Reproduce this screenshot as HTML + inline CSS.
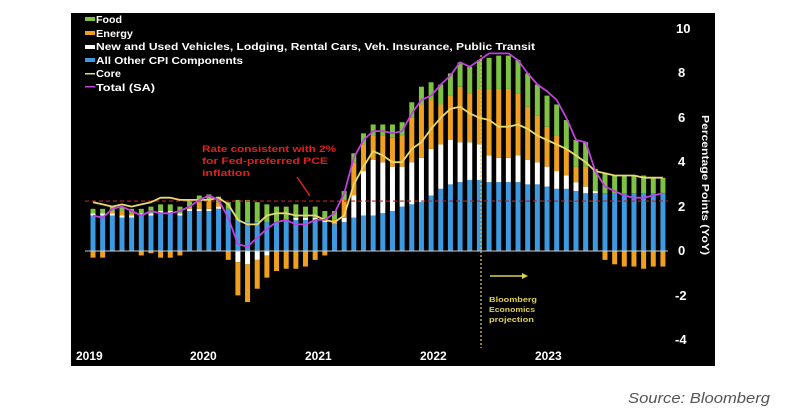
<!DOCTYPE html>
<html><head><meta charset="utf-8"><style>
body{margin:0;background:#fff;width:800px;height:413px;overflow:hidden;font-family:"Liberation Sans",sans-serif}
</style></head><body>
<svg id="s" width="800" height="413" xmlns="http://www.w3.org/2000/svg" style="position:absolute;left:0;top:0">
<rect x="71" y="13" width="644" height="353" fill="#000"/>
<g id="g"></g>
<g font-family="Liberation Sans, sans-serif" font-weight="bold" fill="#fff">
<text x="676" y="33" font-size="13">10</text>
<text x="678" y="77" font-size="13">8</text>
<text x="678" y="122" font-size="13">6</text>
<text x="678" y="166" font-size="13">4</text>
<text x="678" y="211" font-size="13">2</text>
<text x="678" y="255" font-size="13">0</text>
<text x="675" y="300" font-size="13">-2</text>
<text x="675" y="344" font-size="13">-4</text>
<text transform="translate(702,185) rotate(90)" font-size="10" text-anchor="middle" textLength="140" lengthAdjust="spacingAndGlyphs">Percentage Points (YoY)</text>
<text x="76" y="360" font-size="12">2019</text>
<text x="190" y="360" font-size="12">2020</text>
<text x="305" y="360" font-size="12">2021</text>
<text x="420" y="360" font-size="12">2022</text>
<text x="535" y="360" font-size="12">2023</text>
<g font-size="10">
<rect x="85" y="17" width="10" height="4" fill="#7dc242"/><text x="96" y="23" textLength="26" lengthAdjust="spacingAndGlyphs">Food</text>
<rect x="85" y="31" width="10" height="4" fill="#f0a020"/><text x="96" y="37" textLength="37" lengthAdjust="spacingAndGlyphs">Energy</text>
<rect x="85" y="45" width="10" height="4" fill="#fff"/><text x="96" y="50" textLength="439" lengthAdjust="spacingAndGlyphs">New and Used Vehicles, Lodging, Rental Cars, Veh. Insurance, Public Transit</text>
<rect x="85" y="58" width="10" height="4" fill="#3d9ae0"/><text x="96" y="64" textLength="147" lengthAdjust="spacingAndGlyphs">All Other CPI Components</text>
<rect x="85" y="73" width="10" height="1.5" fill="#e8d870"/><text x="96" y="77" textLength="25" lengthAdjust="spacingAndGlyphs">Core</text>
<rect x="85" y="86" width="10" height="1.5" fill="#c040e0"/><text x="96" y="91" textLength="59" lengthAdjust="spacingAndGlyphs">Total (SA)</text>
</g>
</g>
<g font-family="Liberation Sans, sans-serif" font-weight="bold" fill="#e02020" font-size="9">
<text x="202" y="152" textLength="134" lengthAdjust="spacingAndGlyphs">Rate consistent with 2%</text>
<text x="202" y="164" textLength="126" lengthAdjust="spacingAndGlyphs">for Fed-preferred PCE</text>
<text x="202" y="176" textLength="48" lengthAdjust="spacingAndGlyphs">inflation</text>
</g>
<line x1="297" y1="177" x2="310" y2="196" stroke="#e02020" stroke-width="1.5"/>
<g font-family="Liberation Sans, sans-serif" font-weight="bold" fill="#e0d050" font-size="7">
<text x="489" y="302" textLength="48" lengthAdjust="spacingAndGlyphs">Bloomberg</text>
<text x="489" y="312" textLength="46" lengthAdjust="spacingAndGlyphs">Economics</text>
<text x="489" y="322" textLength="45" lengthAdjust="spacingAndGlyphs">projection</text>
</g>
<line x1="490" y1="276" x2="524" y2="276" stroke="#e0d050" stroke-width="1.5"/>
<polygon points="528,276 522,273 522,279" fill="#e0d050"/>
<text x="628" y="403" font-family="Liberation Sans, sans-serif" font-style="italic" font-size="15" fill="#555" textLength="142" lengthAdjust="spacingAndGlyphs">Source: Bloomberg</text>
</svg>
<script>
var T=[1.6,1.5,1.9,2.0,1.8,1.6,1.8,1.7,1.7,1.8,2.0,2.3, 2.5,2.3,1.5,0.3,0.2,0.6,1.0,1.3,1.4,1.2,1.2,1.4, 1.4,1.7,2.6,4.2,5.0,5.4,5.4,5.3,5.4,6.2,6.8,7.0, 7.5,7.9,8.5,8.3,8.6,8.9,8.9,8.9,8.6,8.0,7.5,7.2, 6.8,6.0,5.0,4.9,3.6,2.9,2.7,2.5,2.4,2.4,2.5,2.6];
var C=[2.2,2.1,2.0,2.1,2.0,2.1,2.2,2.4,2.4,2.3,2.3,2.3, 2.3,2.4,2.1,1.4,1.2,1.2,1.6,1.7,1.7,1.6,1.6,1.6, 1.4,1.3,1.6,3.0,3.8,4.5,4.3,4.0,4.0,4.6,4.9,5.5, 6.0,6.4,6.5,6.2,6.0,5.9,5.6,5.6,5.7,5.5,5.2,5.0, 4.8,4.6,4.3,4.0,3.6,3.5,3.4,3.4,3.4,3.3,3.3,3.3];
var O=[1.6,1.6,1.6,1.5,1.5,1.6,1.6,1.7,1.7,1.6,1.8,1.8, 1.8,1.9,1.9,1.4,1.3,1.3,1.3,1.3,1.4,1.4,1.4,1.4, 1.3,1.2,1.3,1.5,1.6,1.6,1.7,1.8,2.0,2.1,2.2,2.5, 2.8,3.0,3.1,3.2,3.2,3.1,3.1,3.1,3.1,3.0,3.0,2.9, 2.8,2.8,2.7,2.6,2.6,2.6,2.6,2.6,2.6,2.6,2.6,2.6];
var V=[0.1,0.1,0.1,0.1,0.1,0.1,0.1,0.1,0.1,0.1,0.1,0.1, 0.1,0.1,0,-0.5,-0.6,-0.4,-0.2,0,0,0.1,0.1,0.1, 0.1,0,0.2,1.0,2.0,2.5,2.3,2.0,1.8,1.9,2.0,2.1, 2.0,2.0,1.8,1.7,1.6,1.2,1.1,1.1,1.2,1.1,1.0,0.9, 0.8,0.6,0.4,0.3,0.1,0,0,0,0,0,0,0];
var F=[0.2,0.2,0.2,0.2,0.2,0.2,0.3,0.3,0.3,0.3,0.3,0.3, 0.25,0.25,0.3,0.9,1.0,0.9,0.8,0.7,0.6,0.6,0.5,0.5, 0.4,0.4,0.4,0.4,0.5,0.5,0.5,0.6,0.6,0.7,0.8,0.8, 0.9,1.0,1.1,1.2,1.3,1.4,1.5,1.5,1.5,1.5,1.4,1.4, 1.4,1.3,1.2,1.1,1.0,0.9,0.8,0.8,0.8,0.8,0.7,0.7];
var E=[-0.3,-0.3,0.1,0.2,0.1,-0.2,-0.1,-0.3,-0.3,-0.2,0.1,0.3, 0.4,0.2,-0.4,-1.5,-1.7,-1.3,-1.0,-0.9,-0.8,-0.8,-0.7,-0.4, -0.2,0.2,0.8,1.5,1.2,1.1,1.2,1.3,1.4,2.0,2.4,2.2, 1.8,2.0,2.5,2.2,2.5,3.0,3.1,3.1,2.8,2.4,2.1,1.8, 1.6,1.2,0.7,0.9,0,-0.4,-0.6,-0.7,-0.7,-0.8,-0.7,-0.7];
var Y0=251,U=22.2,s='';
function X(i){return 93+i*9.66;}
function y(v){return Y0-v*U;}
for(var i=0;i<60;i++){
 var pos=0,neg=0,x=X(i)-2.5;
 var parts=[[O[i],'#3d9ae0'],[V[i],'#fff'],[E[i],'#f0a020'],[F[i],'#7dc242']];
 parts.forEach(function(p){var v=p[0];if(!v)return;
  if(v>0){s+='<rect x="'+x+'" y="'+y(pos+v)+'" width="5" height="'+(v*U)+'" fill="'+p[1]+'"/>';pos+=v;}
  else{s+='<rect x="'+x+'" y="'+y(neg)+'" width="5" height="'+(-v*U)+'" fill="'+p[1]+'"/>';neg+=v;}
 });
}
s+='<line x1="85" y1="'+Y0+'" x2="668" y2="'+Y0+'" stroke="#ccc" stroke-width="1"/>';
s+='<line x1="85" y1="'+y(2.25)+'" x2="668" y2="'+y(2.25)+'" stroke="#c02020" stroke-width="1.2" stroke-dasharray="4,3"/>';
function path(a,c){var d='';for(var i=0;i<60;i++)d+=(i?'L':'M')+X(i).toFixed(1)+','+y(a[i]).toFixed(1);return '<path d="'+d+'" fill="none" stroke="'+c+'" stroke-width="1.8" stroke-linejoin="round"/>';}
s+=path(C,'#e8d870');s+=path(T,'#c040e0');
s+='<line x1="481" y1="55" x2="481" y2="348" stroke="#e0d050" stroke-width="1.2" stroke-dasharray="2,2"/>';
document.getElementById('g').innerHTML=s;
</script>
</body></html>
